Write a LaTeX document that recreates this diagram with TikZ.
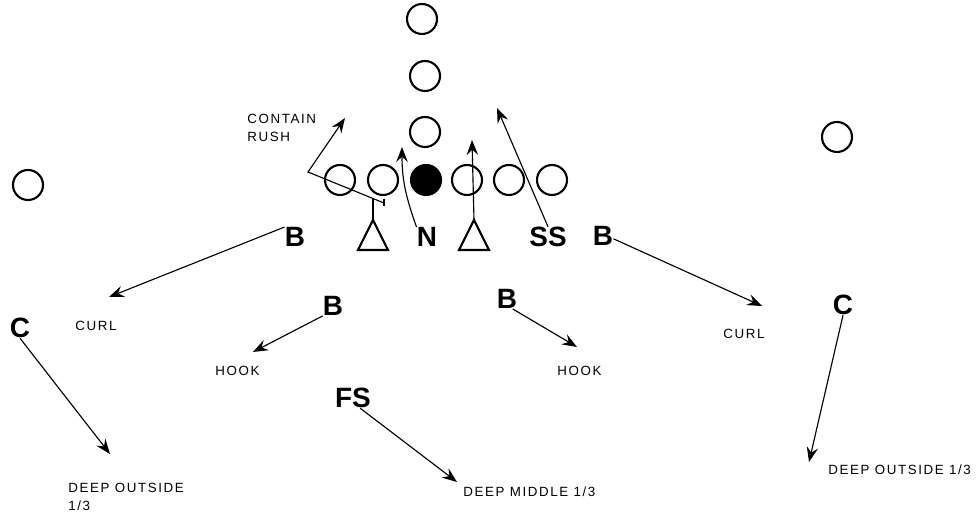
\documentclass[tikz,border=0pt]{standalone}
\usepackage{fontspec}
\setmainfont{Liberation Sans}
\newfontfamily\labfont[LetterSpace=12]{Liberation Sans}
\usetikzlibrary{arrows.meta}
\tikzset{
  man/.style={circle,draw,line width=1.2pt,minimum size=0.6cm,inner sep=0pt},
  center/.style={man,fill=black},
  player/.style={inner sep=0pt,font=\fontsize{15.9}{18}\selectfont\bfseries},
  lab/.style={inner sep=0pt,anchor=north west,align=left,font=\labfont\fontsize{7.6}{10.5}\selectfont},
  tri/.style={draw,line width=1.2pt,line join=miter},
  arr/.style={line width=0.65pt,-{Stealth[length=8.5pt,width=6.5pt,inset=3pt]}},
  thin/.style={line width=0.65pt}
}
\begin{document}
\begin{tikzpicture}[x=0.02cm,y=-0.02cm]
\useasboundingbox (0,0) rectangle (980,519);
% offense
\node[man] (o1) at (422,19) {};
\node[man] (o2) at (425,76) {};
\node[man] (o3) at (425,132) {};
\node[man] (wl) at (28,185) {};
\node[man] (wr) at (837,137) {};
\node[man] (l1) at (340,180) {};
\node[man] (l2) at (383,180) {};
\node[center] (c0) at (426,180) {};
\node[man] (l4) at (467,180) {};
\node[man] (l5) at (509,180) {};
\node[man] (l6) at (552,180) {};
% defensive tackles (triangles)
\coordinate (LT) at (373,220);
\coordinate (RT) at (474,220);
\draw[tri] (LT) -- ++(15,30) -- ++(-30,0) -- cycle;
\draw[tri] (RT) -- ++(15,30) -- ++(-30,0) -- cycle;
% defenders
\node[player] (N) at (427,237) {N};
\node[player] (SS) at (548,237) {SS};
\node[player] (B1) at (295,237) {B};
\node[player] (B4) at (603,236) {B};
\node[player] (B2) at (333,306) {B};
\node[player] (B3) at (507,299) {B};
\node[player] (C1) at (20,328) {C};
\node[player] (C2) at (843,305) {C};
\node[player] (FS) at (353,398) {FS};
% labels
\node[lab] (lcr) at (247,113.5) {CONTAIN\\RUSH};
\node[lab] (lcl) at (75,320.5) {CURL};
\node[lab] (lhl) at (215,365.5) {HOOK};
\node[lab] (lhr) at (557,365.5) {HOOK};
\node[lab] (lcrr) at (723,328.5) {CURL};
\node[lab] (ldol) at (68,482.5) {DEEP OUTSIDE\\1/3};
\node[lab] (ldm) at (463,486.5) {DEEP MIDDLE 1/3};
\node[lab] (ldor) at (828,464.5) {DEEP OUTSIDE 1/3};
% route end points
\coordinate (tB1) at (109,297);
\coordinate (tB2) at (253,352);
\coordinate (tB3) at (577,347);
\coordinate (tB4) at (762,306);
\coordinate (tC1) at (110,454);
\coordinate (tC2) at (809,462);
\coordinate (tFS) at (457,482);
\coordinate (tSS) at (497,108);
\coordinate (tN) at (402,147);
\coordinate (tRT) at (472,140);
\coordinate (tCR) at (345,118);
\coordinate (crK) at (308,172);
\coordinate (crE) at (384,203);
\coordinate (crS) at (373,199);
\coordinate (tk1) at (384,199);
\coordinate (tk2) at (384,206);
% routes
\draw[arr] (B1.north west) -- (tB1);
\draw[arr] (B2.south west) -- (tB2);
\draw[arr] (B3.-60) -- (tB3);
\draw[arr] (B4.-15) -- (tB4);
\draw[arr] (C1.south) -- (tC1);
\draw[arr] (C2.south) -- (tC2);
\draw[arr] (FS.-55) -- (tFS);
\draw[arr] (SS.north) -- (tSS);
\draw[arr] (N.north west) .. controls (405,195) and (402,178) .. (tN);
\draw[arr] (RT) -- (tRT);
\draw[thin] (LT) -- (crS);
\draw[arr] (crE) -- (crK) -- (tCR);
\draw[thin] (tk1) -- (tk2);
\end{tikzpicture}
\end{document}
